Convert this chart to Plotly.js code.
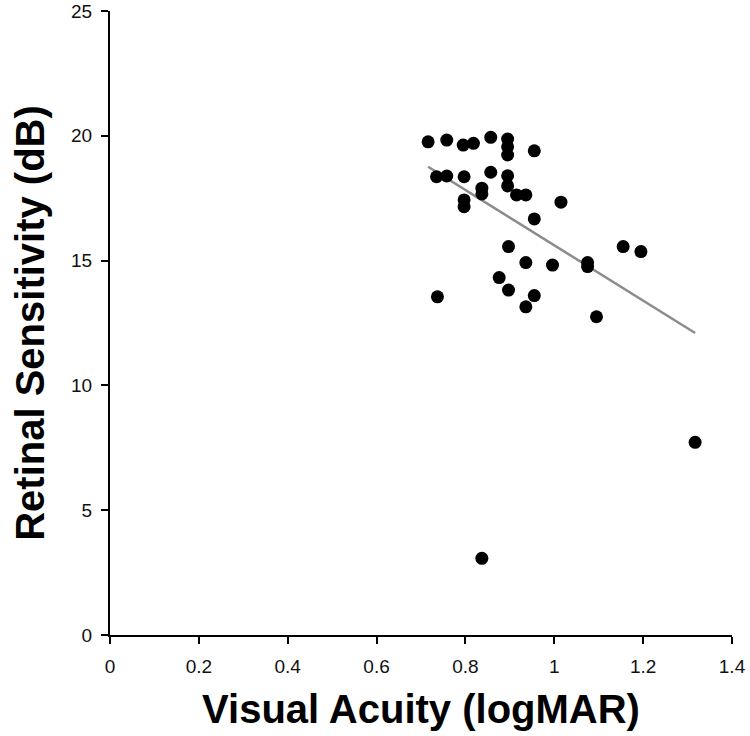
<!DOCTYPE html>
<html>
<head>
<meta charset="utf-8">
<script src="https://cdn.plot.ly/plotly-3.0.1.min.js"></script>
<style>
  body { margin: 0; background: #fff; }
  #chart { width: 750px; height: 736px; }
</style>
</head>
<body>
<div id="chart"></div>
<script>
// visual acuity (logMAR) vs retinal sensitivity (dB), one point per eye
const acuity = [
  0.716, 0.758, 0.795, 0.818, 0.857, 0.895, 0.895, 0.895, 0.955,
  0.735, 0.758, 0.797, 0.857, 0.895, 0.895, 0.837, 0.837, 0.915,
  0.936, 0.797, 0.797, 1.015, 0.955,
  0.897, 0.936, 0.996, 1.075, 1.075, 1.155, 1.195, 0.876, 0.897,
  0.955, 0.936, 0.737, 1.095,
  1.317, 0.837
];
const sensitivity = [
  19.76, 19.83, 19.63, 19.70, 19.94, 19.87, 19.56, 19.23, 19.40,
  18.36, 18.39, 18.36, 18.54, 18.40, 17.99, 17.90, 17.67, 17.63,
  17.63, 17.43, 17.16, 17.34, 16.67,
  15.56, 14.92, 14.82, 14.92, 14.76, 15.56, 15.36, 14.32, 13.82,
  13.60, 13.15, 13.55, 12.75,
  7.72, 3.07
];

// linear fit, end points
const fitX = [0.716, 1.317];
const fitY = [18.76, 12.10];

const xTicks = [0, 0.2, 0.4, 0.6, 0.8, 1, 1.2, 1.4];
const yTicks = [0, 5, 10, 15, 20, 25];

const font = '"Liberation Sans", Arial, Helvetica, sans-serif';

const data = [
  {
    x: fitX, y: fitY, type: 'scatter', mode: 'lines',
    line: {color: '#8c8c8c', width: 2.5},
    hoverinfo: 'skip'
  },
  {
    x: acuity, y: sensitivity, type: 'scatter', mode: 'markers',
    marker: {color: '#000', size: 13}
  }
];

const axisBase = {
  showgrid: false, zeroline: false,
  showline: true, linecolor: '#000', linewidth: 2,
  ticks: 'outside', ticklen: 7, tickwidth: 2, tickcolor: '#000',
  tickfont: {family: font, size: 19, color: '#111'}
};

const titleFont = {family: font, size: 40, color: '#000', weight: 'bold'};

const layout = {
  width: 750, height: 736,
  margin: {l: 110, r: 18, t: 11, b: 101},
  showlegend: false,
  paper_bgcolor: '#fff', plot_bgcolor: '#fff',
  xaxis: Object.assign({}, axisBase, {
    range: [0, 1.4], tickvals: xTicks,
    ticktext: xTicks.map(String),
    ticklabelstandoff: 6,
    title: {text: 'Visual Acuity (logMAR)', font: titleFont, standoff: 19}
  }),
  yaxis: Object.assign({}, axisBase, {
    range: [0, 25], tickvals: yTicks,
    ticklabelstandoff: 5,
    title: {text: 'Retinal Sensitivity (dB)', font: titleFont, standoff: 14}
  })
};

Plotly.newPlot('chart', data, layout, {staticPlot: true});
</script>
</body>
</html>
